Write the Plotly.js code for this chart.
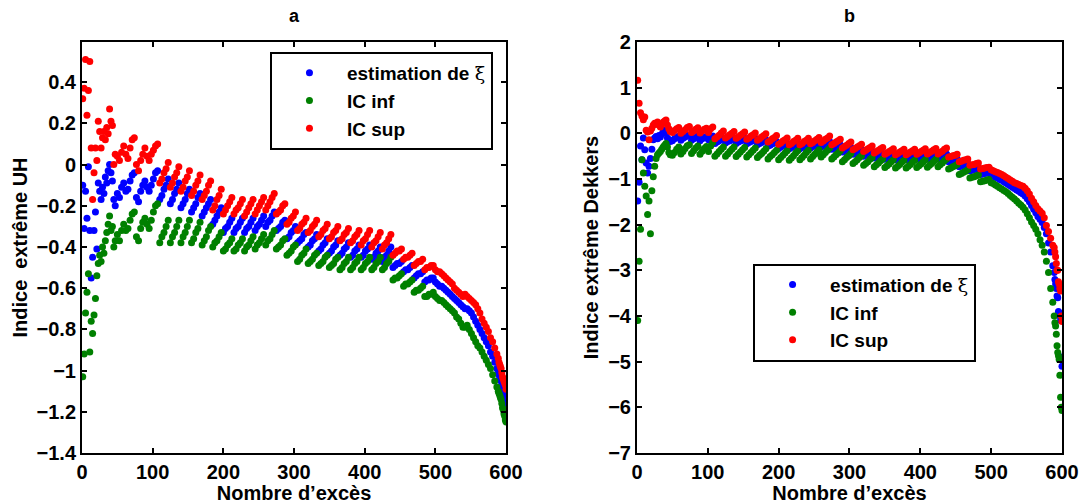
<!DOCTYPE html>
<html>
<head>
<meta charset="utf-8">
<script src="https://cdn.plot.ly/plotly-3.0.1.min.js"></script>
<style>html,body{margin:0;padding:0;background:#fff;}#chart{width:1082px;height:504px;}</style>
</head>
<body>
<div id="chart"></div>
<script>
// Number of excesses (shared x positions)
const excesses = [
1,3,5,7,9,11,13,15,17,19,21,23,25,27,29,31,33,35,37,39,41,43,45,47,
50,53,56,59,62,65,68,71,74,77,80,83,86,89,92,95,98,101,104,107,
110,113,116,119,122,125,128,131,134,137,140,143,146,149,152,155,158,161,164,167,
170,173,176,179,182,185,188,191,194,197,200,203,206,209,212,215,218,221,224,227,
230,233,236,239,242,245,248,251,254,257,260,263,266,269,272,275,278,281,284,287,
290,293,296,299,302,305,308,311,314,317,320,323,326,329,332,335,338,341,344,347,
350,353,356,359,362,365,368,371,374,377,380,383,386,389,392,395,398,401,404,407,
410,413,416,419,422,425,428,431,434,437,440,443,446,449,452,455,458,461,464,467,
470,473,476,479,482,485,488,491,494,497,
500,503,506,509,512,515,518,521,524,527,530,533,536,539,542,545,548,551,554,557,
560,563,566,569,572,575,578,581,584,587,
589,590,591,592,593,594,595,596,597,598,599,600];

// Panel a : Indice extrême UH
const uhEstimation = [
-0.10,-0.31,-0.13,-0.26,-0.01,-0.32,-0.55,-0.45,-0.32,-0.23,-0.41,-0.09,-0.13,-0.17,-0.11,-0.14,-0.06,-0.09,-0.03,0.00,-0.04,-0.08,-0.17,-0.20,
-0.14,-0.16,-0.11,-0.09,-0.13,-0.12,-0.08,-0.05,-0.04,-0.16,-0.18,-0.13,-0.10,-0.08,-0.11,-0.13,-0.10,-0.07,-0.04,-0.03,
-0.17,-0.15,-0.12,-0.10,-0.07, -0.19,-0.17,-0.14,-0.12,-0.09, -0.21,-0.19,-0.17,-0.14,-0.12, -0.23,-0.21,-0.19,-0.16,-0.14,
-0.25,-0.23,-0.21,-0.19,-0.17, -0.29,-0.27,-0.25,-0.23,-0.21, -0.33,-0.31,-0.30,-0.28,-0.26, -0.33,-0.31,-0.30,-0.28,-0.26,
-0.33,-0.31,-0.30,-0.28,-0.26, -0.32,-0.30,-0.29,-0.27,-0.25, -0.30,-0.28,-0.27,-0.25,-0.23, -0.32,-0.31,-0.30,-0.28,-0.27,
-0.36,-0.35,-0.33,-0.32,-0.30, -0.38,-0.37,-0.36,-0.34,-0.33, -0.40,-0.39,-0.37,-0.36,-0.34, -0.42,-0.41,-0.39,-0.38,-0.36,
-0.43,-0.42,-0.40,-0.39,-0.37, -0.44,-0.43,-0.41,-0.40,-0.38, -0.45,-0.44,-0.42,-0.41,-0.39, -0.45,-0.44,-0.42,-0.41,-0.39,
-0.46,-0.45,-0.43,-0.42,-0.40, -0.47,-0.45,-0.44,-0.42,-0.40, -0.50,-0.49,-0.48,-0.48,-0.47, -0.52,-0.51,-0.51,-0.50,-0.49,
-0.55,-0.54,-0.53,-0.53,-0.52, -0.57,-0.56,-0.56,-0.55,-0.55,
-0.57,-0.58,-0.59,-0.59,-0.60,-0.61,-0.62,-0.63,-0.64,-0.65,-0.66,-0.67,-0.68,-0.69,-0.70,-0.70,-0.71,-0.72,-0.74,-0.76,
-0.78,-0.80,-0.82,-0.84,-0.86,-0.88,-0.91,-0.93,-0.96,-0.99,
-1.01,-1.02,-1.03,-1.04,-1.05,-1.07,-1.08,-1.10,-1.11,-1.13,-1.15,-1.16];

const uhICinf = [
-1.03,-0.92,-0.72,-0.62,-0.53,-0.91,-0.76,-0.82,-0.73,-0.65,-0.54,-0.48,-0.44,-0.47,-0.40,-0.43,-0.37,-0.33,-0.29,-0.25,-0.32,-0.30,-0.40,-0.37,
-0.34,-0.37,-0.32,-0.29,-0.32,-0.31,-0.27,-0.24,-0.23,-0.35,-0.37,-0.31,-0.28,-0.26,-0.29,-0.31,-0.27,-0.23,-0.20,-0.19,
-0.38,-0.35,-0.33,-0.30,-0.27, -0.38,-0.35,-0.33,-0.30,-0.27, -0.38,-0.35,-0.33,-0.30,-0.27, -0.38,-0.36,-0.33,-0.31,-0.28,
-0.39,-0.37,-0.35,-0.32,-0.30, -0.40,-0.38,-0.37,-0.35,-0.33, -0.42,-0.41,-0.39,-0.38,-0.36, -0.42,-0.41,-0.39,-0.38,-0.36,
-0.42,-0.40,-0.39,-0.37,-0.35, -0.41,-0.39,-0.38,-0.36,-0.34, -0.39,-0.37,-0.36,-0.34,-0.32, -0.41,-0.40,-0.39,-0.37,-0.36,
-0.44,-0.43,-0.42,-0.40,-0.39, -0.47,-0.46,-0.44,-0.43,-0.41, -0.48,-0.47,-0.46,-0.44,-0.43, -0.49,-0.48,-0.47,-0.45,-0.44,
-0.50,-0.49,-0.48,-0.46,-0.45, -0.51,-0.50,-0.48,-0.47,-0.45, -0.51,-0.50,-0.48,-0.47,-0.45, -0.51,-0.50,-0.48,-0.47,-0.45,
-0.51,-0.50,-0.48,-0.47,-0.45, -0.51,-0.50,-0.48,-0.47,-0.45, -0.56,-0.55,-0.55,-0.54,-0.53, -0.59,-0.58,-0.58,-0.57,-0.56,
-0.62,-0.61,-0.61,-0.60,-0.59, -0.64,-0.64,-0.63,-0.63,-0.62,
-0.64,-0.65,-0.66,-0.66,-0.67,-0.68,-0.69,-0.70,-0.71,-0.72,-0.74,-0.75,-0.77,-0.79,-0.79,-0.78,-0.80,-0.82,-0.84,-0.86,
-0.88,-0.89,-0.91,-0.93,-0.95,-0.97,-0.99,-1.02,-1.05,-1.08,
-1.10,-1.11,-1.12,-1.13,-1.14,-1.16,-1.18,-1.19,-1.21,-1.22,-1.24,-1.25];

const uhICsup = [
0.32,0.37,0.51,0.24,0.36,0.50,0.08,-0.17,-0.04,0.08,0.02,0.21,0.16,0.08,0.13,0.16,0.12,0.18,0.15,0.27,0.21,0.19,0.00,0.05,
0.04,0.02,0.06,0.09,0.05,0.03,0.08,0.12,0.13,0.00,-0.03,0.02,0.05,0.08,0.04,0.02,0.05,0.07,0.09,0.10,
-0.09,-0.07,-0.04,-0.02,0.01, -0.11,-0.09,-0.06,-0.04,-0.01, -0.13,-0.11,-0.08,-0.06,-0.03, -0.15,-0.13,-0.10,-0.08,-0.05,
-0.17,-0.15,-0.13,-0.10,-0.08, -0.22,-0.20,-0.17,-0.15,-0.12, -0.24,-0.22,-0.20,-0.18,-0.16, -0.24,-0.22,-0.21,-0.19,-0.17,
-0.25,-0.23,-0.21,-0.19,-0.17, -0.24,-0.22,-0.20,-0.18,-0.16, -0.22,-0.20,-0.18,-0.16,-0.14, -0.24,-0.23,-0.22,-0.20,-0.19,
-0.29,-0.28,-0.26,-0.25,-0.23, -0.32,-0.31,-0.29,-0.28,-0.26, -0.33,-0.32,-0.30,-0.29,-0.27, -0.35,-0.34,-0.32,-0.31,-0.29,
-0.36,-0.35,-0.33,-0.32,-0.30, -0.37,-0.36,-0.34,-0.33,-0.31, -0.38,-0.37,-0.35,-0.34,-0.32, -0.39,-0.37,-0.36,-0.34,-0.32,
-0.40,-0.38,-0.37,-0.35,-0.33, -0.41,-0.39,-0.38,-0.36,-0.34, -0.44,-0.43,-0.42,-0.42,-0.41, -0.46,-0.45,-0.45,-0.44,-0.43,
-0.49,-0.48,-0.47,-0.47,-0.46, -0.51,-0.50,-0.50,-0.49,-0.49,
-0.51,-0.52,-0.52,-0.53,-0.54,-0.55,-0.56,-0.57,-0.58,-0.60,-0.61,-0.62,-0.63,-0.64,-0.63,-0.64,-0.65,-0.66,-0.67,-0.68,
-0.70,-0.72,-0.75,-0.77,-0.79,-0.81,-0.84,-0.86,-0.89,-0.92,
-0.94,-0.96,-0.97,-0.98,-0.99,-1.01,-1.03,-1.04,-1.05,-1.06,-1.07,-1.09];

// Panel b : Indice extrême Dekkers
const dkEstimation = [
-1.48,-1.07,-0.28,-0.58,-0.10,-0.36,-0.65,-0.87,-0.72,-0.55,-0.35,-0.14,-0.10,-0.07,-0.12,-0.05,-0.08,-0.02,0.03,0.07,0.02,-0.10,-0.14,-0.18,
-0.16,-0.12,-0.09,-0.06,-0.15,-0.11,-0.08,-0.05,-0.04,-0.15,-0.12,-0.09,-0.06,-0.16,-0.12,-0.09,-0.07,-0.14,-0.09,-0.06,
-0.22,-0.19,-0.16,-0.13,-0.10, -0.21,-0.18,-0.16,-0.13,-0.10, -0.22,-0.19,-0.17,-0.14,-0.11, -0.23,-0.20,-0.18,-0.15,-0.12,
-0.25,-0.22,-0.20,-0.17,-0.14, -0.28,-0.26,-0.23,-0.21,-0.18, -0.33,-0.30,-0.28,-0.25,-0.22, -0.34,-0.31,-0.29,-0.26,-0.23,
-0.34,-0.31,-0.29,-0.26,-0.23, -0.32,-0.29,-0.27,-0.24,-0.21, -0.30,-0.27,-0.24,-0.21,-0.18, -0.35,-0.33,-0.30,-0.28,-0.25,
-0.41,-0.39,-0.36,-0.34,-0.31, -0.46,-0.44,-0.41,-0.39,-0.36, -0.50,-0.48,-0.45,-0.43,-0.40, -0.54,-0.52,-0.49,-0.47,-0.44,
-0.57,-0.55,-0.52,-0.50,-0.47, -0.58,-0.56,-0.53,-0.51,-0.48, -0.58,-0.56,-0.53,-0.51,-0.48, -0.57,-0.55,-0.52,-0.50,-0.47,
-0.56,-0.54,-0.51,-0.49,-0.46, -0.56,-0.53,-0.51,-0.48,-0.45, -0.62,-0.61,-0.59,-0.58,-0.56, -0.73,-0.71,-0.70,-0.68,-0.66,
-0.82,-0.81,-0.79,-0.78,-0.76, -0.90,-0.89,-0.88,-0.87,-0.86,
-0.92,-0.94,-0.96,-0.98,-1.01,-1.03,-1.06,-1.09,-1.12,-1.15,-1.18,-1.21,-1.24,-1.27,-1.30,-1.33,-1.37,-1.43,-1.50,-1.58,
-1.66,-1.74,-1.82,-1.88,-1.95,-2.06,-2.20,-2.40,-2.60,-2.90,
-3.05,-3.20,-3.30,-3.40,-3.56,-3.60,-3.90,-3.93,-4.00,-4.10,-4.90,-5.10];

const dkICinf = [
-4.10,-2.80,-2.10,-0.58,-0.87,-1.16,-1.37,-1.78,-1.48,-2.20,-1.26,-0.95,-0.72,-0.55,-0.47,-0.43,-0.40,-0.35,-0.30,-0.26,-0.22,-0.30,-0.42,-0.47,
-0.48,-0.42,-0.35,-0.30,-0.45,-0.40,-0.33,-0.27,-0.25,-0.44,-0.38,-0.32,-0.28,-0.46,-0.39,-0.33,-0.29,-0.40,-0.28,-0.20,
-0.50,-0.45,-0.40,-0.35,-0.30, -0.50,-0.45,-0.40,-0.35,-0.30, -0.51,-0.46,-0.41,-0.36,-0.31, -0.52,-0.47,-0.42,-0.37,-0.32,
-0.53,-0.48,-0.44,-0.39,-0.34, -0.56,-0.51,-0.47,-0.42,-0.37, -0.58,-0.53,-0.48,-0.43,-0.38, -0.59,-0.54,-0.49,-0.43,-0.38,
-0.58,-0.53,-0.48,-0.42,-0.37, -0.56,-0.51,-0.46,-0.41,-0.36, -0.52,-0.47,-0.42,-0.37,-0.32, -0.56,-0.52,-0.47,-0.43,-0.38,
-0.62,-0.58,-0.53,-0.49,-0.44, -0.66,-0.62,-0.58,-0.53,-0.49, -0.70,-0.66,-0.62,-0.57,-0.53, -0.73,-0.69,-0.65,-0.60,-0.56,
-0.75,-0.71,-0.67,-0.62,-0.58, -0.76,-0.72,-0.68,-0.63,-0.59, -0.76,-0.72,-0.68,-0.63,-0.59, -0.75,-0.71,-0.67,-0.62,-0.58,
-0.74,-0.70,-0.66,-0.61,-0.57, -0.73,-0.69,-0.65,-0.60,-0.56, -0.78,-0.76,-0.73,-0.71,-0.68, -0.90,-0.88,-0.85,-0.83,-0.80,
-0.98,-0.96,-0.95,-0.93,-0.91, -1.06,-1.05,-1.04,-1.02,-1.01,
-1.08,-1.10,-1.13,-1.16,-1.19,-1.22,-1.25,-1.28,-1.32,-1.36,-1.40,-1.44,-1.48,-1.53,-1.57,-1.62,-1.68,-1.76,-1.85,-1.94,
-2.02,-2.10,-2.20,-2.33,-2.45,-2.60,-2.80,-3.05,-3.40,-3.70,
-4.00,-4.15,-4.22,-4.40,-4.65,-4.80,-4.87,-4.95,-5.30,-5.78,-6.00,-6.07];

const dkICsup = [
1.16,0.66,0.45,0.38,0.30,0.36,0.07,0.03,-0.14,0.05,0.11,0.18,0.22,0.20,0.25,0.18,0.14,0.20,0.24,0.27,0.29,0.18,0.10,0.04,
0.02,0.06,0.10,0.13,0.00,0.04,0.08,0.13,0.15,0.02,0.05,0.09,0.12,0.01,0.05,0.09,0.11,0.02,0.10,0.14,
-0.12,-0.08,-0.04,0.01,0.05, -0.10,-0.07,-0.03,0.00,0.04, -0.11,-0.08,-0.04,-0.01,0.03, -0.13,-0.10,-0.06,-0.03,0.01,
-0.15,-0.12,-0.08,-0.05,-0.01, -0.19,-0.16,-0.12,-0.09,-0.05, -0.24,-0.21,-0.17,-0.14,-0.10, -0.25,-0.22,-0.18,-0.15,-0.11,
-0.25,-0.22,-0.18,-0.15,-0.11, -0.23,-0.20,-0.16,-0.13,-0.09, -0.20,-0.17,-0.13,-0.10,-0.06, -0.25,-0.22,-0.19,-0.16,-0.13,
-0.32,-0.29,-0.26,-0.22,-0.19, -0.36,-0.33,-0.30,-0.27,-0.24, -0.40,-0.37,-0.34,-0.31,-0.28, -0.43,-0.40,-0.37,-0.34,-0.31,
-0.46,-0.43,-0.40,-0.37,-0.34, -0.47,-0.44,-0.41,-0.38,-0.35, -0.47,-0.44,-0.41,-0.38,-0.35, -0.46,-0.43,-0.40,-0.37,-0.34,
-0.45,-0.42,-0.39,-0.36,-0.33, -0.45,-0.42,-0.39,-0.35,-0.32, -0.52,-0.51,-0.49,-0.48,-0.46, -0.62,-0.61,-0.59,-0.58,-0.56,
-0.70,-0.69,-0.68,-0.66,-0.65, -0.78,-0.77,-0.76,-0.75,-0.74,
-0.80,-0.82,-0.84,-0.86,-0.88,-0.90,-0.93,-0.96,-0.99,-1.02,-1.05,-1.08,-1.10,-1.12,-1.14,-1.16,-1.20,-1.26,-1.33,-1.42,
-1.50,-1.58,-1.65,-1.70,-1.75,-1.85,-2.02,-2.15,-2.30,-2.45,
-2.50,-2.60,-2.70,-2.85,-3.00,-3.00,-3.25,-3.30,-3.40,-3.45,-4.00,-4.12];

const seriesNames = ['estimation de <span style="font-family:\'DejaVu Serif\',serif;font-weight:normal">ξ</span>', 'IC inf', 'IC sup'];
const seriesColors = ['#0000ff', '#008000', '#ff0000'];
const panelTitles = ['a', 'b'];
const yTitles = ['Indice  extrême UH', 'Indice extrême Dekkers'];
const xTitle = 'Nombre d’excès';
const yTicksA = [-1.4,-1.2,-1,-0.8,-0.6,-0.4,-0.2,0,0.2,0.4];
const yTicksB = [-7,-6,-5,-4,-3,-2,-1,0,1,2];
const xTicks = [0,100,200,300,400,500,600];

const FONT = 'Liberation Sans, Arial, Helvetica, sans-serif';
const panels = [
  {ys:[uhEstimation, uhICinf, uhICsup], xa:'x', ya:'y', lg:'legend'},
  {ys:[dkEstimation, dkICinf, dkICsup], xa:'x2', ya:'y2', lg:'legend2'}
];
const traces = [];
panels.forEach(p => {
  p.ys.forEach((yv, i) => {
    traces.push({
      type:'scatter', mode:'markers', x: excesses, y: yv,
      xaxis:p.xa, yaxis:p.ya, legend:p.lg,
      name: seriesNames[i],
      marker:{color:seriesColors[i], size:7, line:{width:0}},
      hoverinfo:'skip'
    });
  });
});

const axBase = {
  showline:true, linecolor:'#000', linewidth:2, mirror:'ticks',
  ticks:'inside', ticklen:5, tickwidth:2, tickcolor:'#000',
  showgrid:false, zeroline:false,
  tickfont:{family:FONT, size:20, color:'#000', weight:'bold'},
  automargin:false
};
const titleFont = {family:FONT, size:20, color:'#000', weight:'bold'};
const legBase = {
  bordercolor:'#000', borderwidth:2, bgcolor:'#fff',
  font:{family:FONT, size:19, color:'#000', weight:'bold'},
  itemwidth:65,
  xanchor:'left', yanchor:'top', itemclick:false, itemdoubleclick:false
};

const layout = {
  width:1082, height:504,
  margin:{l:0, r:0, t:42, b:51},
  paper_bgcolor:'#fff', plot_bgcolor:'#fff',
  showlegend:true,
  xaxis: Object.assign({}, axBase, {domain:[0.0758,0.4677], range:[0,600], tickvals:xTicks, anchor:'y',
    title:{text:xTitle, font:titleFont, standoff:2}}),
  yaxis: Object.assign({}, axBase, {domain:[0,1], range:[-1.4,0.595], tickvals:yTicksA, anchor:'x',
    title:{text:yTitles[0], font:titleFont, standoff:4}}),
  xaxis2: Object.assign({}, axBase, {domain:[0.5887,0.9815], range:[0,600], tickvals:xTicks, anchor:'y2',
    title:{text:xTitle, font:titleFont, standoff:2}}),
  yaxis2: Object.assign({}, axBase, {domain:[0,1], range:[-7,2], tickvals:yTicksB, anchor:'x2',
    title:{text:yTitles[1], font:titleFont, standoff:4}}),
  legend: Object.assign({}, legBase, {x:0.2495, y:0.9757}),
  legend2: Object.assign({}, legBase, {x:0.696, y:0.4608}),
  annotations: [
    {text:panelTitles[0], xref:'x domain', yref:'paper', x:0.5, y:1, yshift:38, showarrow:false,
     font:{family:FONT, size:18, color:'#000', weight:'bold'}},
    {text:panelTitles[1], xref:'x2 domain', yref:'paper', x:0.5, y:1, yshift:38, showarrow:false,
     font:{family:FONT, size:18, color:'#000', weight:'bold'}}
  ]
};

Plotly.newPlot('chart', traces, layout, {staticPlot:true, displayModeBar:false});
</script>
</body>
</html>
